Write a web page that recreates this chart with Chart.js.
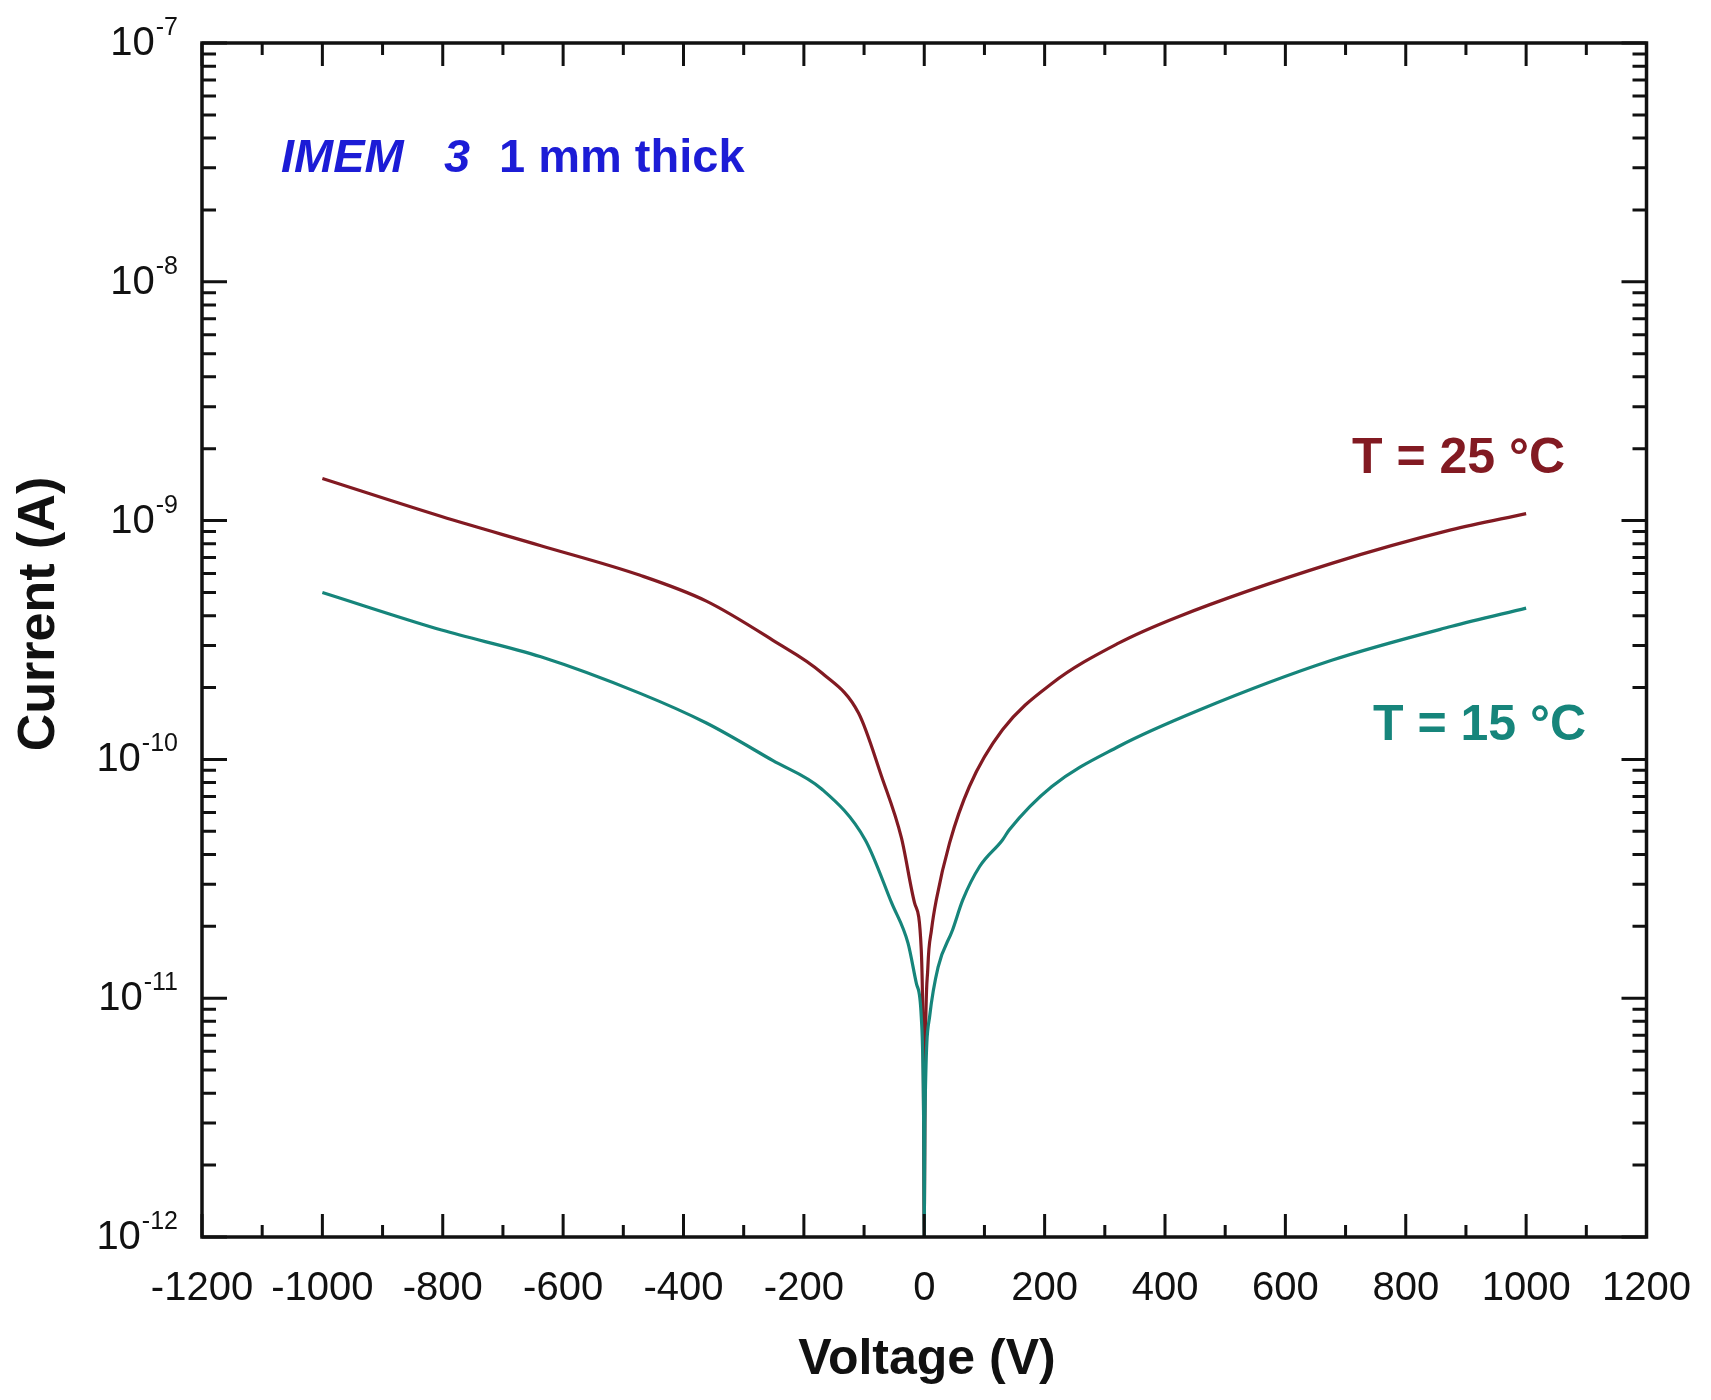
<!DOCTYPE html>
<html>
<head>
<meta charset="utf-8">
<title>IMEM 3 I-V</title>
<script src="https://cdn.jsdelivr.net/npm/chart.js@4.4.1/dist/chart.umd.min.js"></script>
<style>
  html, body { margin: 0; padding: 0; background: #fff; }
  #wrap { width: 1711px; height: 1400px; position: relative; }
</style>
</head>
<body>
<div id="wrap"><canvas id="ivChart"></canvas></div>
<script>
// 数据：电压 (V) / 电流 (A)
const volt25 = [-1000, -802, -637, -472, -362, -252, -170, -109, -71, -38, -16, -5, -1.5, 0,
  1.5, 6, 12, 20, 42, 75, 130, 212, 322, 421, 677, 875, 1000];
const curr25 = [1.50e-9, 1.04e-9, 7.85e-10, 5.9e-10, 4.6e-10, 3.16e-10, 2.3e-10, 1.56e-10, 8.5e-11, 4.7e-11, 2.5e-11, 1.6e-11, 5e-12, 1e-12,
  5e-12, 1.35e-11, 1.93e-11, 2.58e-11, 4.46e-11, 7.7e-11, 1.33e-10, 2.08e-10, 3.06e-10, 3.95e-10, 6.62e-10, 9.14e-10, 1.07e-9];

const volt15 = [-1000, -802, -637, -472, -362, -252, -170, -98, -54, -27, -13, -5, -1, 0,
  1, 9, 23, 47, 64, 92, 130, 141, 212, 322, 457, 677, 875, 1000];
const curr15 = [5.0e-10, 3.48e-10, 2.69e-10, 1.89e-10, 1.42e-10, 9.9e-11, 7.5e-11, 4.6e-11, 2.5e-11, 1.7e-11, 1.15e-11, 8.4e-12, 3e-12, 1e-12,
  3e-12, 8.4e-12, 1.35e-11, 1.93e-11, 2.58e-11, 3.56e-11, 4.6e-11, 5.06e-11, 7.7e-11, 1.13e-10, 1.61e-10, 2.6e-10, 3.6e-10, 4.3e-10];

// 坐标轴刻度
const xMin = -1200, xMax = 1200, xStep = 100, xLabelStep = 200;
const yExponents = [-12, -11, -10, -9, -8, -7];
const yMinorSteps = [2, 3, 4, 5, 6, 7, 8, 9];

// 文字
const seriesLabels = ['T = 25 °C', 'T = 15 °C'];
const sampleText = ['IMEM', '3', '1 mm thick'];
const xTitle = 'Voltage (V)';
const yTitle = 'Current (A)';

const FONT = '"Liberation Sans", Arial, Helvetica, sans-serif';
const RED = '#821a22';
const TEAL = '#16857b';
const BLUE = '#1c1cd6';

const isDecade = (v) => {
  const e = Math.log10(v);
  return Math.abs(e - Math.round(e)) < 1e-9;
};

// y 轴刻度值：每个数量级 1..9
const yTickValues = [];
yExponents.forEach((e, i) => {
  yTickValues.push(Math.pow(10, e));
  if (i < yExponents.length - 1) {
    yMinorSteps.forEach(m => yTickValues.push(Number((m * Math.pow(10, e)).toPrecision(3))));
  }
});

const toPoints = (xs, ys) => xs.map((v, i) => ({ x: v, y: ys[i] }));

// 边框 + 向内刻度 + 文字标注
const frameTicks = {
  id: 'frameTicks',
  afterDatasetsDraw(chart) {
    const { ctx, chartArea: a, scales: { x, y } } = chart;
    ctx.save();
    ctx.strokeStyle = '#111';
    ctx.lineWidth = 3;
    ctx.beginPath();
    x.ticks.forEach(t => {
      const px = x.getPixelForValue(t.value);
      const len = t.value % xLabelStep === 0 ? 23 : 12;
      ctx.moveTo(px, a.bottom); ctx.lineTo(px, a.bottom - len);
      ctx.moveTo(px, a.top); ctx.lineTo(px, a.top + len);
    });
    y.ticks.forEach(t => {
      const py = y.getPixelForValue(t.value);
      const len = isDecade(t.value) ? 25 : 14;
      ctx.moveTo(a.left, py); ctx.lineTo(a.left + len, py);
      ctx.moveTo(a.right, py); ctx.lineTo(a.right - len, py);
    });
    ctx.stroke();
    ctx.lineWidth = 3.5;
    ctx.strokeRect(a.left, a.top, a.right - a.left, a.bottom - a.top);

    // y 轴刻度标签 10^n（上标）
    ctx.fillStyle = '#111';
    ctx.textAlign = 'right';
    const labelRight = a.left - 24;
    yExponents.forEach(e => {
      const py = y.getPixelForValue(Math.pow(10, e));
      const expText = String(e);
      ctx.font = '25px ' + FONT;
      ctx.textBaseline = 'alphabetic';
      const w = ctx.measureText(expText).width;
      ctx.fillText(expText, labelRight, py - 8);
      ctx.font = '40px ' + FONT;
      ctx.textBaseline = 'middle';
      ctx.fillText('10', labelRight - w - 1, py + 1);
    });

    // 轴标题
    ctx.textAlign = 'center';
    ctx.textBaseline = 'middle';
    ctx.font = 'bold 50px ' + FONT;
    ctx.fillText(xTitle, 927, 1360);
    ctx.save();
    ctx.translate(40, 614);
    ctx.rotate(-Math.PI / 2);
    ctx.font = 'bold 52px ' + FONT;
    ctx.fillText(yTitle, 0, 0);
    ctx.restore();

    // 样品说明
    ctx.textAlign = 'left';
    ctx.textBaseline = 'alphabetic';
    ctx.fillStyle = BLUE;
    ctx.font = 'italic bold 47px ' + FONT;
    ctx.fillText(sampleText[0], 281, 172);
    ctx.fillText(sampleText[1], 444, 172);
    ctx.font = 'bold 47px ' + FONT;
    ctx.fillText(sampleText[2], 499, 172);

    // 温度标注
    ctx.font = 'bold 50px ' + FONT;
    ctx.fillStyle = RED;
    ctx.fillText(seriesLabels[0], 1352, 473);
    ctx.fillStyle = TEAL;
    ctx.fillText(seriesLabels[1], 1373, 740);
    ctx.restore();
  }
};

document.addEventListener('DOMContentLoaded', () => {
  const ctx = document.getElementById('ivChart');
  new Chart(ctx, {
    type: 'line',
    data: {
      datasets: [
        {
          label: seriesLabels[1],
          data: toPoints(volt15, curr15),
          borderColor: TEAL,
          borderWidth: 3.2,
          pointRadius: 0,
          cubicInterpolationMode: 'monotone',
          order: 0
        },
        {
          label: seriesLabels[0],
          data: toPoints(volt25, curr25),
          borderColor: RED,
          borderWidth: 3.2,
          pointRadius: 0,
          cubicInterpolationMode: 'monotone',
          order: 1
        }
      ]
    },
    options: {
      responsive: true,
      maintainAspectRatio: false,
      animation: false,
      layout: { padding: { top: 43, right: 54, left: 0, bottom: 0 } },
      plugins: {
        legend: { display: false },
        tooltip: { enabled: false }
      },
      scales: {
        x: {
          type: 'linear',
          min: xMin,
          max: xMax,
          grid: { display: false },
          border: { display: false },
          ticks: {
            stepSize: xStep,
            autoSkip: false,
            maxRotation: 0,
            padding: 20,
            color: '#111',
            font: { family: FONT, size: 40 },
            callback: (v) => (v % xLabelStep === 0 ? String(v) : '')
          },
          afterFit: (s) => { s.height = 163; }
        },
        y: {
          type: 'logarithmic',
          min: 1e-12,
          max: 1e-7,
          grid: { display: false },
          border: { display: false },
          afterBuildTicks: (s) => { s.ticks = yTickValues.map(v => ({ value: v, major: isDecade(v) })); },
          ticks: {
            autoSkip: false,
            display: false
          },
          afterFit: (s) => { s.width = 202; }
        }
      }
    },
    plugins: [frameTicks]
  });
});
</script>
</body>
</html>
